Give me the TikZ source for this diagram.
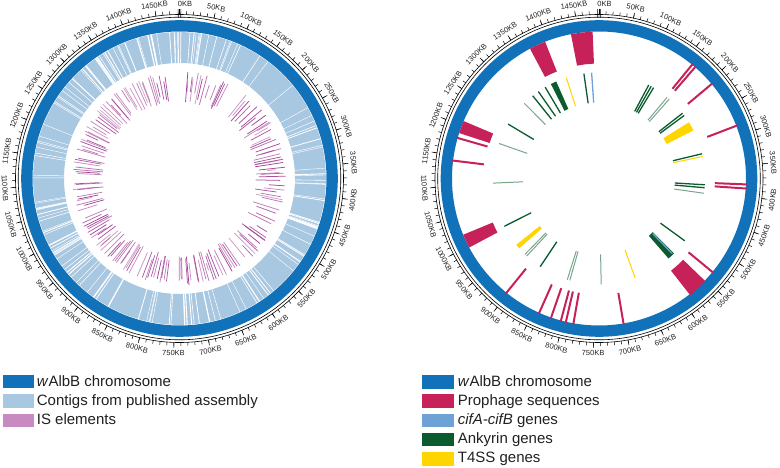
\documentclass[tikz,border=0pt]{standalone}
\usepackage{fontspec}
\setmainfont{Liberation Sans}
\definecolor{chrom}{RGB}{17,114,186}
\definecolor{contig}{RGB}{168,199,225}
\definecolor{isline}{RGB}{158,58,145}
\definecolor{islegend}{RGB}{200,138,192}
\definecolor{proph}{RGB}{199,33,90}
\definecolor{cif}{RGB}{110,162,214}
\definecolor{ank}{RGB}{11,91,47}
\definecolor{tfs}{RGB}{255,213,0}
\definecolor{txt}{RGB}{35,31,32}
% annular sector: style, angle1, angle2, rin, rout (angles clockwise from north)
\newcommand\annsec[5]{\fill[#1] ({#2-90}:#4) -- ({(#2+#3)/2-90}:#4) -- ({#3-90}:#4) -- ({#3-90}:#5) -- ({(#2+#3)/2-90}:#5) -- ({#2-90}:#5) -- cycle;}
% radial line: style, angle, rin, rout
\newcommand\radln[4]{\draw[#1] ({#2-90}:#3) -- ({#2-90}:#4);}
\newcommand\genring{%
  \fill[chrom, even odd rule] (0,0) circle[radius=158.3] (0,0) circle[radius=147];
  \draw[ringline] (0,0) circle[radius=161.3];
  \draw[ringline] (0,0) circle[radius=164];
  \foreach \k in {0,...,152}{%
    \pgfmathsetmacro\ang{\k*2.425876}
    \pgfmathtruncatemacro\inside{\ang<359}
    \ifnum\inside=1 \draw[tickline] ({\ang-90}:164) -- ({\ang-90}:167.4);\fi}
  \foreach \k in {0,...,29}{%
    \pgfmathsetmacro\ang{\k*12.12938}
    \pgfmathsetmacro\lang{\ang+(\k==0)*1.8}
    \pgfmathsetmacro\rot{ifthenelse(and(\ang>90,\ang<270),180-\ang,-\ang)}
    \pgfmathtruncatemacro\kb{\k*50}
    \draw[tickline] ({\ang-90}:164) -- ({\ang-90}:169.5);
    \node[ticklab, rotate=\rot] at ({\lang-90}:174.8) {\kb KB};}
  \draw[ringline] ({-0.45-90}:160.8) -- ({-0.45-90}:169.5);
  \draw[ringline] ({0.45-90}:160.8) -- ({0.45-90}:169.5);
}
\tikzset{
  ringline/.style={black, line width=0.6pt},
  tickline/.style={black, line width=0.5pt},
  ticklab/.style={font=\fontsize{7.5}{8}\selectfont, text=txt, inner sep=0pt},
  legsq/.style={draw=none, minimum width=30.8pt, minimum height=13.8pt, inner sep=0pt, anchor=north west},
  legtxt/.style={font=\fontsize{15}{17}\selectfont, text=txt, inner sep=0pt, anchor=base west},
  phl/.style={proph, line width=2pt},
  ankl/.style={ank, line width=1.3pt},
  ankf/.style={ank, line width=1pt, opacity=0.55},
  tfl/.style={tfs, line width=1pt},
  cifl/.style={cif, line width=1.3pt},
}
\begin{document}
\begin{tikzpicture}[x=1pt,y=-1pt]
\useasboundingbox (0,0) rectangle (780,468);
\coordinate (Lc) at (179.5,178.5);
\coordinate (Rc) at (599,178.5);

% ---------------- left circle ----------------
\begin{scope}[shift={(Lc)}]
  \genring
  \fill[contig, even odd rule] (0,0) circle[radius=146.4] (0,0) circle[radius=115.5];
  \pgfmathsetseed{7321}
  \foreach \i in {1,...,150}{%
    \pgfmathsetmacro\ang{rnd*360}
    \pgfmathsetmacro\w{0.4+1.8*rnd*rnd*rnd}
    \draw[white, line width=\w pt] ({\ang-90}:115) -- ({\ang-90}:146.6);}
  \draw[white, line width=1.2pt] ({-0.6-90}:115) -- ({-0.6-90}:146.6);
  \foreach \k in {0,...,239}{%
    \pgfmathsetmacro\ang{\k*1.5+rnd*1.5}
    \pgfmathtruncatemacro\gapA{(\ang>352)+(\ang<1.2)+and(\ang>30,\ang<38)+and(\ang>183,\ang<185.5)}
    \pgfmathtruncatemacro\skipr{rnd<0.2}
    \pgfmathsetmacro\rin{76+17*rnd*rnd}
    \pgfmathsetmacro\rout{107-11*rnd*rnd}
    \pgfmathsetmacro\op{0.45+0.55*rnd}
    \ifnum\numexpr\gapA+\skipr\relax=0
      \draw[isline, line width=0.75pt, opacity=\op] ({\ang-90}:\rin) -- ({\ang-90}:\rout);
    \fi}
\end{scope}

% ---------------- right circle ----------------
\begin{scope}[shift={(Rc)}]
  \genring
  % prophage blocks and lines
  \annsec{proph}{349}{357.5}{115}{147}
  \annsec{proph}{332}{338.5}{115}{147}
  \annsec{proph}{288}{293}{115}{147}
  \annsec{proph}{242}{247.5}{115}{147}
  \annsec{proph}{134}{142}{117}{148}
  \foreach \a in {286,277,219,204,199,195,193,190,170.4,129.5,92.3,93.9,69,50,39.3,40.8}{%
    \radln{phl}{\a}{116}{148}}
  % ankyrin
  \annsec{ank}{333}{336.2}{76}{106}
  \annsec{ank}{135}{139}{76}{106}
  \foreach \a in {351.8,329.5,325.1,321.3,300.9,243.2,213.7,126,93.4,95,76.5,52,53.5,28,29.5,31}{%
    \radln{ankl}{\a}{76}{106}}
  \foreach \a in {315.2,289.3,267.5,223,224.3,197.4,196,178.8,98,40,41.5}{%
    \radln{ankf}{\a}{76}{106}}
  % cifA-cifB
  \radln{cifl}{356}{76}{106}
  \radln{cifl}{135.7}{77}{105}
  % T4SS
  \annsec{tfs}{228.8}{231.3}{76}{106}
  \annsec{tfs}{58}{63}{76}{106}
  \foreach \a in {342,160,78}{\radln{tfl}{\a}{76}{106}}
\end{scope}

% ---------------- legends ----------------
\node[legsq, fill=chrom]    (ls1) at (2.7,374.3) {};
\node[legsq, fill=contig]   (ls2) at (2.7,394) {};
\node[legsq, fill=islegend] (ls3) at (2.7,413.3) {};
\node[legtxt] (lt1) at (36.7,386) {\textit{w}AlbB chromosome};
\node[legtxt] (lt2) at (36.7,405.5) {Contigs from published assembly};
\node[legtxt] (lt3) at (36.7,424.8) {IS elements};

\node[legsq, fill=chrom, minimum width=31.6pt] (rs1) at (421.7,375) {};
\node[legsq, fill=proph, minimum width=31.6pt] (rs2) at (421.7,394) {};
\node[legsq, fill=cif,   minimum width=31.6pt] (rs3) at (421.7,413.3) {};
\node[legsq, fill=ank,   minimum width=31.6pt] (rs4) at (421.7,432.3) {};
\node[legsq, fill=tfs,   minimum width=31.6pt] (rs5) at (421.7,451.6) {};
\node[legtxt] (rt1) at (457.7,386.5) {\textit{w}AlbB chromosome};
\node[legtxt] (rt2) at (457.7,405) {Prophage sequences};
\node[legtxt] (rt3) at (457.7,424) {\textit{cifA-cifB} genes};
\node[legtxt] (rt4) at (457.7,443) {Ankyrin genes};
\node[legtxt] (rt5) at (457.7,462.3) {T4SS genes};
\end{tikzpicture}
\end{document}
